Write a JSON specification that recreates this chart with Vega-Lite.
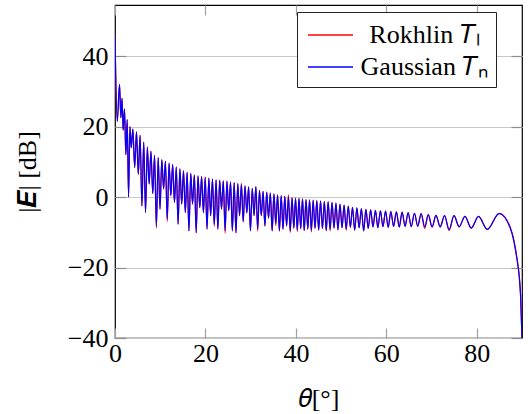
{
"$schema":"https://vega.github.io/schema/vega-lite/v6.json",
"width":407,"height":333,
"autosize":"none",
"padding":{"left":115,"top":5,"right":6,"bottom":76},
"config":{
 "font":"Liberation Serif",
 "view":{"stroke":"black","strokeWidth":1.2},
 "axis":{"labelFont":"Liberation Serif","titleFont":"Liberation Serif","labelFontSize":26,"titleFontSize":26,"labelColor":"black","titleColor":"black","titleFontWeight":"normal","domain":false}
},
"data":{"values":[
{"t":0,"r":46,"b":46},{"t":0.5,"r":21.5,"b":21.5},{"t":1.0,"r":32,"b":32},{"t":1.3,"r":22.5,"b":22.5},{"t":1.55,"r":28,"b":28},{"t":1.8,"r":19,"b":19},{"t":2.1,"r":25,"b":25},{"t":2.4,"r":12,"b":12},{"t":2.7,"r":22,"b":22},{"t":3.0,"r":0,"b":0},{"t":3.3,"r":20,"b":20},{"t":3.6,"r":14,"b":14},{"t":3.95,"r":19.3,"b":19.3},{"t":4.35,"r":8.4,"b":8.4},{"t":4.75,"r":18.5,"b":18.5},{"t":5.15,"r":6.5,"b":6.5},{"t":5.55,"r":17.5,"b":17.5},{"t":5.95,"r":-2.5,"b":-2.5},{"t":6.35,"r":15.6,"b":15.6},{"t":6.75,"r":-4.4,"b":-4.4},{"t":7.15,"r":14.2,"b":14.2},{"t":7.55,"r":3.7,"b":3.7},{"t":7.95,"r":13,"b":13},{"t":8.35,"r":1,"b":1},{"t":8.75,"r":11.8,"b":11.8},{"t":9.15,"r":-8.8,"b":-8.2},{"t":9.55,"r":11.2,"b":11.2},{"t":9.95,"r":-3.4,"b":-3.4},{"t":10.35,"r":10.6,"b":10.6},{"t":10.75,"r":2.3,"b":2.3},{"t":11.15,"r":10.2,"b":10.2},{"t":11.55,"r":-6.9,"b":-6.3},{"t":11.95,"r":9.6,"b":9.6},{"t":12.35,"r":0.4,"b":0.4},{"t":12.75,"r":9.2,"b":9.2},{"t":13.15,"r":-1.5,"b":-1.5},{"t":13.55,"r":8.5,"b":8.5},{"t":13.95,"r":-7.7,"b":-7.7},{"t":14.35,"r":8,"b":8},{"t":14.75,"r":-2,"b":-2},{"t":15.15,"r":7.4,"b":7.4},{"t":15.55,"r":-4.4,"b":-4.4},{"t":15.95,"r":7,"b":7},{"t":16.35,"r":-9.6,"b":-9.6},{"t":16.75,"r":6.7,"b":6.7},{"t":17.15,"r":-2,"b":-2},{"t":17.55,"r":6.3,"b":6.3},{"t":17.95,"r":-10.1,"b":-10.1},{"t":18.35,"r":6,"b":6},{"t":18.75,"r":-3,"b":-3},{"t":19.15,"r":5.8,"b":5.8},{"t":19.55,"r":-4.4,"b":-4.4},{"t":19.95,"r":5.6,"b":5.6},{"t":20.35,"r":-9.1,"b":-9.1},{"t":20.75,"r":5.4,"b":5.4},{"t":21.15,"r":-5.3,"b":-5.3},{"t":21.55,"r":5.1,"b":5.1},{"t":21.95,"r":-8.3,"b":-7.7},{"t":22.35,"r":4.9,"b":4.9},{"t":22.75,"r":-9.1,"b":-9.1},{"t":23.15,"r":4.8,"b":4.8},{"t":23.55,"r":-3.4,"b":-3.4},{"t":23.95,"r":4.6,"b":4.6},{"t":24.35,"r":-10.2,"b":-9.6},{"t":24.75,"r":4.5,"b":4.5},{"t":25.15,"r":-3.9,"b":-3.9},{"t":25.55,"r":4.3,"b":4.3},{"t":25.95,"r":-9.6,"b":-9.6},{"t":26.35,"r":4.1,"b":4.1},{"t":26.75,"r":-10.1,"b":-10.1},{"t":27.15,"r":3.8,"b":3.8},{"t":27.55,"r":-5.3,"b":-5.3},{"t":27.95,"r":3.9,"b":3.5},{"t":28.35,"r":-7,"b":-7},{"t":28.75,"r":3.2,"b":3.2},{"t":29.15,"r":-4.5,"b":-4.5},{"t":29.55,"r":2.9,"b":2.9},{"t":29.95,"r":-9.6,"b":-9.6},{"t":30.35,"r":2.5,"b":2.5},{"t":30.75,"r":-5.3,"b":-5.3},{"t":31.15,"r":3,"b":3},{"t":31.55,"r":-9.6,"b":-9},{"t":31.95,"r":1.9,"b":1.9},{"t":32.35,"r":-5.3,"b":-5.3},{"t":32.75,"r":1.6,"b":1.6},{"t":33.15,"r":-8.2,"b":-8.2},{"t":33.55,"r":1.4,"b":1.4},{"t":33.95,"r":-6,"b":-6},{"t":34.35,"r":1.1,"b":1.1},{"t":34.75,"r":-9.6,"b":-9.6},{"t":35.15,"r":0.9,"b":0.9},{"t":35.55,"r":-8.1,"b":-7.5},{"t":35.95,"r":0.6,"b":0.6},{"t":36.35,"r":-9.6,"b":-9.6},{"t":36.75,"r":0.4,"b":0.4},{"t":37.15,"r":-9.1,"b":-9.1},{"t":37.55,"r":0.2,"b":0.2},{"t":37.95,"r":-8.2,"b":-8.2},{"t":38.35,"r":0.6,"b":0},{"t":38.75,"r":-10,"b":-9.6},{"t":39.15,"r":-0.2,"b":-0.2},{"t":39.55,"r":-8.8,"b":-8.8},{"t":39.92,"r":-0.3,"b":-0.3},
{"t":40.31,"r":-9.8,"b":-9.3},{"t":40.69,"r":-0.4,"b":-0.4},{"t":41.07,"r":-9,"b":-9},{"t":41.46,"r":-0.5,"b":-0.5},{"t":41.84,"r":-9.5,"b":-9.5},{"t":42.24,"r":-0.7,"b":-0.7},{"t":42.63,"r":-9.1,"b":-9.1},{"t":43.02,"r":-0.8,"b":-0.8},{"t":43.42,"r":-9.9,"b":-9.4},{"t":43.82,"r":-0.9,"b":-0.9},{"t":44.23,"r":-8.9,"b":-8.9},{"t":44.63,"r":-1,"b":-1},{"t":45.04,"r":-9.4,"b":-9.4},{"t":45.45,"r":-1.1,"b":-1.1},{"t":45.87,"r":-9,"b":-9},{"t":46.29,"r":-1.2,"b":-1.2},{"t":46.71,"r":-9.6,"b":-9.6},{"t":47.13,"r":-1.3,"b":-1.3},{"t":47.56,"r":-9.6,"b":-9.1},{"t":47.99,"r":-1.5,"b":-1.5},{"t":48.43,"r":-8.8,"b":-8.8},{"t":48.86,"r":-1.7,"b":-1.7},{"t":49.3,"r":-9.3,"b":-9.3},{"t":49.75,"r":-2,"b":-2},{"t":50.2,"r":-8.7,"b":-8.7},{"t":50.66,"r":-2.3,"b":-2.3},{"t":51.12,"r":-9.5,"b":-9},{"t":51.58,"r":-2.6,"b":-2.6},{"t":52.05,"r":-8.6,"b":-8.6},{"t":52.52,"r":-2.9,"b":-2.9},{"t":53.0,"r":-9.4,"b":-9.4},{"t":53.49,"r":-3.1,"b":-3.1},{"t":53.98,"r":-8.7,"b":-8.7},{"t":54.48,"r":-3.3,"b":-3.3},{"t":54.98,"r":-9.6,"b":-9.6},{"t":55.49,"r":-3.5,"b":-3.5},{"t":56.0,"r":-8.9,"b":-8.9},{"t":56.53,"r":-3.6,"b":-3.6},{"t":57.05,"r":-8.5,"b":-8.5},{"t":57.59,"r":-3.8,"b":-3.8},{"t":58.13,"r":-8.7,"b":-8.7},{"t":58.69,"r":-3.9,"b":-3.9},{"t":59.25,"r":-8.4,"b":-8.4},{"t":59.83,"r":-4,"b":-4},{"t":60.41,"r":-8.6,"b":-8.6},{"t":61.0,"r":-4.1,"b":-4.1},{"t":61.6,"r":-8.3,"b":-8.3},{"t":62.22,"r":-4.2,"b":-4.2},{"t":62.85,"r":-8.5,"b":-8.5},{"t":63.49,"r":-4.3,"b":-4.3},{"t":64.15,"r":-8.3,"b":-8.3},{"t":64.82,"r":-4.4,"b":-4.4},{"t":65.51,"r":-8.4,"b":-8.4},{"t":66.22,"r":-4.6,"b":-4.6},{"t":66.94,"r":-8.3,"b":-8.3},{"t":67.7,"r":-4.7,"b":-4.7},{"t":68.48,"r":-8.9,"b":-8.45},{"t":69.28,"r":-5,"b":-5},{"t":70.12,"r":-8.5,"b":-8.5},{"t":70.98,"r":-5.2,"b":-5.2},{"t":71.91,"r":-8.45,"b":-8.45},{"t":72.87,"r":-5.3,"b":-5.3},{"t":73.88,"r":-9.5,"b":-9.2},{"t":74.96,"r":-5.3,"b":-5.3},{"t":76.1,"r":-8.45,"b":-8.45},{"t":77.38,"r":-5.5,"b":-5.5},{"t":78.77,"r":-8.8,"b":-8.8},{"t":80.39,"r":-5.5,"b":-5.5},{"t":82.32,"r":-9.2,"b":-9.2},{"t":84.94,"r":-4.6,"b":-4.7},{"t":87.35,"r":-8.4,"b":-8.65},{"t":88.2,"r":-12.2,"b":-12.5},{"t":88.83,"r":-16.8,"b":-17.2},{"t":89.4,"r":-22.4,"b":-22.9},{"t":89.7,"r":-28,"b":-28.6},{"t":90,"r":-40,"b":-40}
]},
"layer":[
 {"mark":{"type":"line","interpolate":"monotone","strokeWidth":1.2,"clip":true},
  "encoding":{
   "x":{"field":"t","type":"quantitative","scale":{"domain":[0,90],"nice":false},
        "axis":{"orient":"bottom","values":[0,20,40,60,80],"grid":false,"tickSize":-10,"tickColor":"#a0a0a0","tickWidth":1.2,"labelFont":"Liberation Serif","labelFontSize":26,"labelFlush":false,"labelPadding":12,"title":"𝜃[°]","titleFont":"Liberation Serif","titlePadding":19}},
   "y":{"field":"r","type":"quantitative","scale":{"domain":[-40,54.5],"nice":false},
        "axis":{"orient":"left","values":[-40,-20,0,20,40],"grid":true,"gridColor":"#c8c8c8","gridWidth":1.2,"tickSize":-11,"tickColor":"#8c8c8c","tickWidth":1.2,"labelFont":"Liberation Serif","labelFontSize":26,"labelFlush":false,"labelPadding":18,"title":"|𝑬| [dB]","titleFont":"Liberation Serif","titlePadding":27}},
   "color":{"datum":"Rokhlin 𝑇ₗ","type":"nominal","scale":{"domain":["Rokhlin 𝑇ₗ","Gaussian 𝑇ₙ"],"range":["#ff0000","#0000ff"]},
        "legend":{"orient":"none","legendX":182,"legendY":7,"title":null,"symbolType":"M-1.5,0H1.5","symbolSize":900,"symbolStrokeWidth":1.3,"symbolOffset":10.5,"labelFont":"Liberation Serif","labelFontSize":26,"labelColor":"black","labelAlign":"center","labelOffset":78,"labelExpr":"datum.label + '\u2002\u2002'","strokeColor":"#222222","fillColor":"white","padding":7,"rowPadding":3}}
  }},
 {"mark":{"type":"line","interpolate":"monotone","strokeWidth":1.2,"clip":true},
  "encoding":{
   "x":{"field":"t","type":"quantitative","axis":{"orient":"top","values":[0,20,40,60,80],"grid":false,"labels":false,"title":null,"tickSize":-10,"tickColor":"#a0a0a0","tickWidth":1.2}},
   "y":{"field":"b","type":"quantitative","axis":{"orient":"right","values":[-40,-20,0,20,40],"grid":false,"labels":false,"title":null,"tickSize":-11,"tickColor":"#8c8c8c","tickWidth":1.2}},
   "color":{"datum":"Gaussian 𝑇ₙ","type":"nominal"}
  }}
],
"resolve":{"axis":{"x":"independent","y":"independent"}}
}
